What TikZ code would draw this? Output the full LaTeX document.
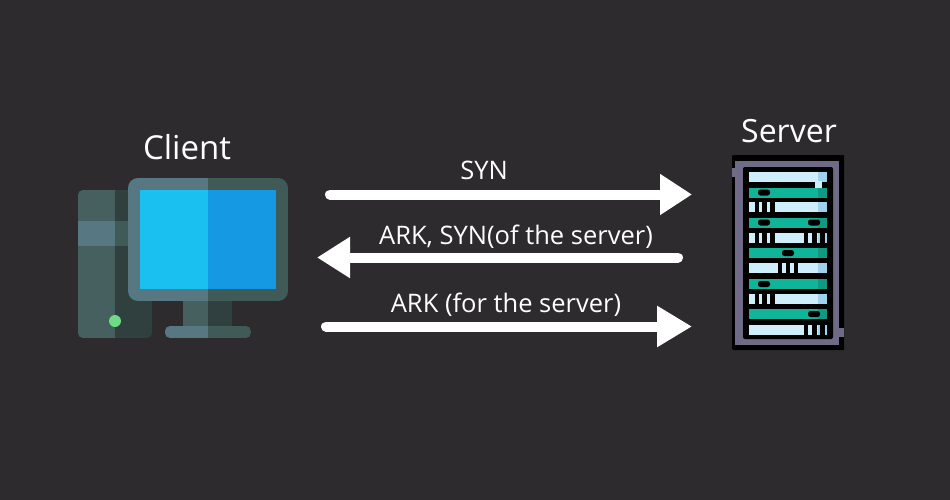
\documentclass[tikz,border=0pt]{standalone}
\usepackage{fontspec}
\setmainfont{Open Sans}
\usetikzlibrary{arrows.meta}
\definecolor{bgdark}{HTML}{2D2B2E}
\definecolor{pclight}{HTML}{46605F}
\definecolor{pcdark}{HTML}{2F403E}
\definecolor{pcpale}{HTML}{577883}
\definecolor{pcmid}{HTML}{405A58}
\definecolor{screenl}{HTML}{1AC0F0}
\definecolor{screenr}{HTML}{1599E2}
\definecolor{ledgreen}{HTML}{6FDC85}
\definecolor{rackgray}{HTML}{6F6A85}
\definecolor{rowteal}{HTML}{10B498}
\definecolor{rowtealdk}{HTML}{0F9B83}
\definecolor{rowpale}{HTML}{CDEEFA}
\definecolor{rowblue}{HTML}{9FD0EE}
\tikzset{
  label/.style={text=white,font=\fontsize{25.5}{30}\selectfont,inner sep=0pt},
  title/.style={text=white,font=\fontsize{33}{40}\selectfont,inner sep=0pt},
  bigarrow/.style={draw=white,line width=10pt,line cap=round,-{Triangle[length=#1,width=39pt]}},
}
% x1, y1, xmid, x2, y2, radius, left colour, right colour
\newcommand{\halfbox}[8]{%
  \begin{scope}
    \clip[rounded corners=#6] (#1,#2) rectangle (#4,#5);
    \fill[#7] (#1,#2) rectangle (#3,#5);
    \fill[#8] (#3,#2) rectangle (#4,#5);
  \end{scope}
}
% top of row, main colour, end colour
\newcommand{\rackrow}[3]{%
  \fill[#2] (749,#1) rectangle (818,#1+10);
  \fill[#3] (818,#1) rectangle (827,#1+10);
}
\newcommand{\rowpill}[2]{%
  \fill[black,rounded corners=2.5pt] (#1,#2-3) rectangle (#1+12,#2+3);
}
\begin{document}
\begin{tikzpicture}[x=1pt,y=-1pt]
  \fill[bgdark] (0,0) rectangle (950,500);
  % client computer
  \halfbox{78}{190}{115}{152}{338}{5pt}{pclight}{pcdark}
  \fill[pcpale] (78,221) rectangle (115,246);
  \fill[pcmid] (115,221) rectangle (128,246);
  \fill[ledgreen] (115,321) circle (6);
  \fill[pclight] (183,301) rectangle (208,326);
  \fill[pcdark] (208,301) rectangle (232,326);
  \halfbox{165}{326}{208}{251}{338}{5pt}{pcpale}{pcmid}
  \halfbox{128}{178}{208}{288}{301}{10pt}{pcpale}{pcmid}
  \fill[screenl] (140,190) rectangle (208,289);
  \fill[screenr] (208,190) rectangle (276,289);
  % server rack
  \fill[black,rounded corners=1pt] (732,155) rectangle (844,350);
  \fill[rackgray] (735,161) rectangle (839,345);
  \fill[rackgray] (732,168) rectangle (738,177);
  \fill[rackgray] (838,328) rectangle (844,337);
  \fill[black,rounded corners=2pt] (743,167) rectangle (833,339);
  \foreach \y in {172,202,233,263,294,325}{
    \rackrow{\y}{rowpale}{rowblue}
  }
  \foreach \y in {187.5,218,248,279,309}{
    \rackrow{\y}{rowteal}{rowtealdk}
  }
  \fill[rowpale] (815,181) rectangle (822,187.5);
  % black gaps in the pale rows
  \foreach \y in {202,233,294}{
    \foreach \x in {754.5,762,770}{
      \fill[black] (\x,\y) rectangle (\x+4.5,\y+10);
    }
  }
  \foreach \y in {233,325}{
    \foreach \x in {803.5,812,820}{
      \fill[black] (\x,\y) rectangle (\x+4.5,\y+10);
    }
  }
  \foreach \x in {777.5,785.5,793.5}{
    \fill[black] (\x,263) rectangle (\x+4.5,273);
  }
  \rowpill{758}{192.5}
  \rowpill{758}{222.5}
  \rowpill{808}{222.5}
  \rowpill{782}{253}
  \rowpill{758}{284}
  \rowpill{808}{314}
  % titles
  \node[title] (client) at (187,147) {Client};
  \node[title,font=\fontsize{32}{40}\selectfont] (server) at (789,131) {Server};
  \node[label] (syn) at (484,170) {SYN};
  \node[label] (arksyn) at (516,236.5) {ARK, SYN(of the server)};
  \node[label] (arkfor) at (506,304.5) {ARK (for the server)};
  % arrows
  \coordinate (synfrom) at (330,194.5);
  \coordinate (synto) at (692,194.5);
  \coordinate (arkfrom) at (678,257.5);
  \coordinate (arkto) at (317,257.5);
  \coordinate (lastfrom) at (326,326.5);
  \coordinate (lastto) at (692,326.5);
  \draw[bigarrow=32pt] (synfrom) -- (synto);
  \draw[bigarrow=33pt] (arkfrom) -- (arkto);
  \draw[bigarrow=35pt] (lastfrom) -- (lastto);
\end{tikzpicture}
\end{document}
